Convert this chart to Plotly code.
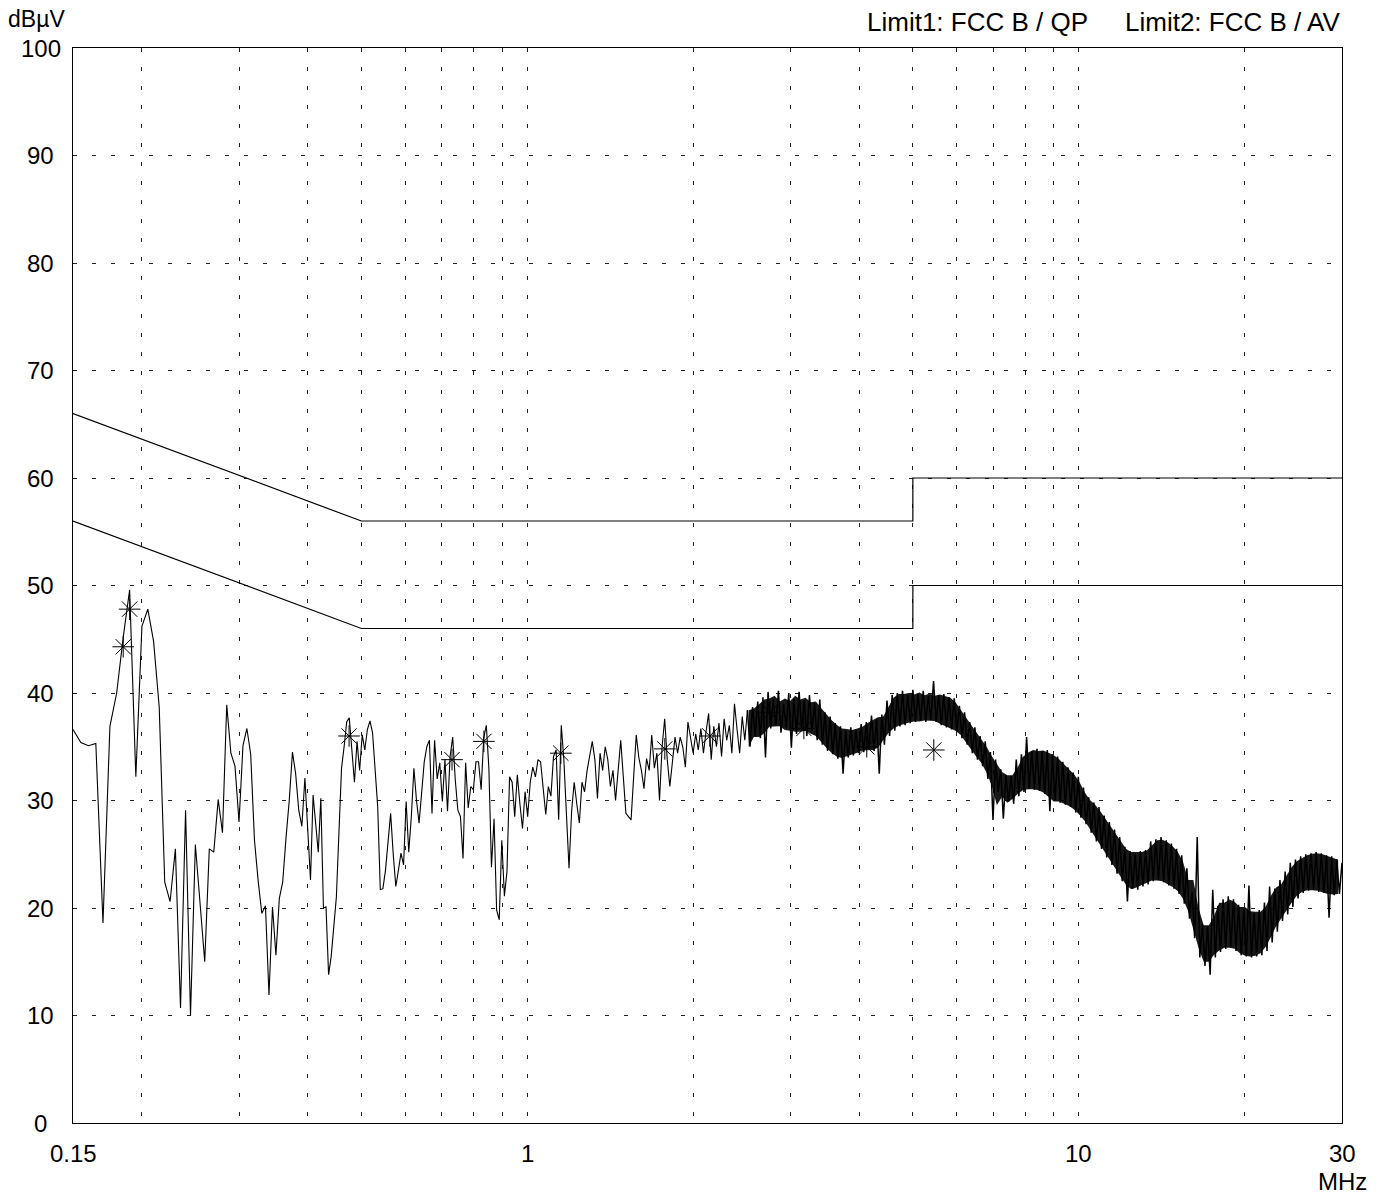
import numpy as np
import plotly.graph_objects as go

# ---- Measurement data ----------------------------------------------------
# Low band: linear receiver sweep, 150 kHz start, 5 kHz step
SWEEP_START_MHZ = 0.150
SWEEP_STEP_MHZ = 0.005
low_band_db = [
    36.6, 35.4, 35.1, 35.3, 18.6, 36.9, 40.0, 45.2, 49.6, 32.2,
    46.2, 47.8, 44.8, 38.7, 22.4, 20.6, 25.5, 10.7, 29.1, 10.0,
    25.9, 20.7, 15.0, 25.5, 25.2, 30.1, 27.0, 38.9, 34.4, 33.2,
    28.0, 35.1, 36.7, 34.3, 26.3, 22.5, 19.5, 20.2, 11.9, 20.1,
    15.6, 20.9, 22.4, 26.5, 30.0, 34.5, 32.5, 29.1, 27.6, 32.1,
]

# Upper band: peak-hold display points on a log grid 0.4 .. 30 MHz
# (from ~2 MHz on, points alternate between the top and bottom of the noise band)
HF_START_MHZ = 0.40
HF_STOP_MHZ = 30.0
BAND_FROM_INDEX = 170
high_band_db = [
    26.6, 22.6, 30.5, 28.0, 25.2, 30.2, 20.0, 20.1, 13.8, 15.5,
    18.0, 21.0, 27.0, 33.0, 35.0, 37.3, 37.7, 35.0, 31.7, 35.5,
    32.8, 36.1, 34.7, 36.6, 37.4, 36.3, 33.0, 29.4, 21.7, 21.8,
    23.5, 26.0, 28.8, 25.0, 22.0, 23.5, 25.1, 24.0, 29.9, 25.2,
    28.5, 33.0, 30.0, 27.9, 30.7, 33.6, 35.0, 35.6, 28.8, 35.6,
    32.0, 33.5, 29.9, 33.8, 29.0, 34.1, 35.9, 31.9, 29.1, 28.5,
    24.6, 33.5, 29.3, 31.3, 31.0, 33.6, 33.6, 31.0, 35.8, 37.0,
    33.0, 23.8, 28.3, 19.8, 18.9, 26.3, 21.1, 23.4, 32.2, 31.7,
    28.5, 32.4, 29.7, 27.4, 30.8, 28.5, 31.7, 33.1, 32.2, 33.8,
    33.6, 31.3, 28.7, 31.3, 30.4, 34.1, 34.7, 28.2, 37.0, 33.8,
    28.5, 23.7, 29.0, 31.7, 29.7, 27.9, 31.7, 30.8, 32.8, 34.1,
    35.5, 33.8, 30.2, 34.4, 32.8, 35.0, 33.8, 31.3, 32.8, 30.0,
    33.0, 35.6, 32.2, 28.8, 28.5, 28.2, 32.2, 36.1, 34.0, 32.8,
    31.1, 33.9, 32.8, 36.1, 33.0, 34.4, 30.0, 35.0, 37.6, 33.8,
    31.3, 33.8, 35.9, 34.4, 35.9, 35.0, 33.1, 37.3, 35.6, 34.4,
    36.2, 34.7, 36.7, 34.4, 36.4, 38.1, 33.8, 36.9, 35.0, 37.2,
    34.1, 37.6, 35.6, 37.0, 34.4, 39.0, 36.6, 34.4, 37.8, 35.6,
    38.4, 35.0, 38.7, 36.0, 39.2, 35.8, 39.6, 34.0, 40.1, 36.7,
    39.4, 37.0, 40.2, 36.3, 39.0, 36.8, 40.0, 34.9, 39.5, 36.2,
    40.1, 36.6, 39.3, 36.0, 39.8, 36.4, 39.0, 35.6, 39.4, 35.2,
    38.2, 34.6, 37.8, 34.3, 37.2, 33.9, 36.9, 32.5, 36.5, 34.0,
    36.8, 34.2, 36.6, 34.4, 37.1, 34.5, 37.3, 34.8, 37.9, 34.6,
    37.6, 32.5, 38.0, 35.2, 39.3, 36.0, 39.8, 36.5, 40.0, 36.9,
    40.2, 37.0, 39.8, 37.2, 40.3, 37.3, 39.9, 37.4, 40.2, 37.3,
    39.7, 37.5, 41.1, 37.3, 39.8, 37.0, 39.9, 36.8, 39.6, 36.6,
    39.5, 36.4, 38.8, 35.8, 38.2, 35.2, 37.3, 34.4, 36.8, 33.8,
    36.0, 33.2, 35.5, 32.0, 34.5, 28.2, 33.8, 30.8, 32.9, 28.3,
    32.4, 29.9, 32.3, 29.7, 33.8, 30.4, 34.3, 30.8, 35.9, 31.1,
    34.6, 31.0, 34.8, 30.9, 34.6, 30.6, 34.7, 29.0, 34.3, 30.0,
    34.1, 29.8, 33.6, 29.6, 33.1, 29.4, 32.6, 28.9, 32.2, 28.4,
    31.2, 27.8, 30.3, 27.0, 29.8, 26.2, 29.4, 25.5, 28.6, 24.7,
    28.0, 24.0, 27.3, 23.2, 26.6, 22.5, 25.7, 20.6, 25.3, 21.8,
    25.1, 21.7, 25.3, 22.0, 25.4, 22.2, 26.2, 22.5, 26.4, 22.6,
    26.6, 22.4, 26.3, 22.1, 26.0, 21.8, 25.5, 21.3, 24.9, 20.4,
    23.7, 19.0, 21.5, 17.2, 26.6, 15.4, 18.5, 14.6, 18.3, 13.8,
    21.7, 15.4, 20.2, 15.9, 20.8, 16.2, 21.1, 16.4, 20.8, 16.0,
    20.3, 15.6, 19.9, 15.5, 22.1, 15.4, 19.5, 15.5, 19.8, 15.6,
    20.5, 16.0, 22.0, 16.8, 21.8, 17.8, 22.6, 18.8, 23.4, 19.4,
    24.2, 20.1, 24.5, 20.9, 24.8, 21.4, 25.0, 21.6, 25.1, 21.7,
    25.2, 21.5, 25.1, 21.4, 24.9, 19.1, 24.8, 21.2, 24.5, 21.3,
    24.2,
]

# Final-measurement markers
marker_mhz = [0.185, 0.190, 0.475, 0.730, 0.834, 1.150, 1.775, 2.142,
              2.753, 3.172, 4.125, 5.457]
marker_db = [44.3, 47.8, 36.0, 33.8, 35.5, 34.4, 34.8, 36.0,
             38.2, 36.7, 35.0, 34.7]

# FCC class B conducted limits
limit_mhz = [0.15, 0.5, 5.0, 5.0, 30.0]
limit_qp_db = [66, 56, 56, 60, 60]
limit_av_db = [56, 46, 46, 50, 50]

# Axis decorations
x_grid_mhz = [0.2, 0.3, 0.4, 0.5, 0.6, 0.7, 0.8, 0.9, 1, 2, 3, 4, 5, 6, 7, 8, 9, 10, 20]
x_tick_mhz = [0.15, 1, 10, 30]
x_tick_text = ["0.15", "1", "10", "30"]
y_ticks = [0, 10, 20, 30, 40, 50, 60, 70, 80, 90, 100]
header_left = "dBµV"
header_unit = "MHz"
header_limit1 = "Limit1: FCC B / QP"
header_limit2 = "Limit2: FCC B / AV"

# ---- Build the trace -----------------------------------------------------
low_mhz = SWEEP_START_MHZ + SWEEP_STEP_MHZ * np.arange(len(low_band_db))
high_mhz = np.geomspace(HF_START_MHZ, HF_STOP_MHZ, len(high_band_db))
high_db = np.asarray(high_band_db, dtype=float)

# Sparse part (single visible line) and dense part (noise band)
sparse_mhz = np.concatenate([low_mhz, high_mhz[:BAND_FROM_INDEX + 1]])
sparse_db = np.concatenate([low_band_db, high_db[:BAND_FROM_INDEX + 1]])
dense_mhz = high_mhz[BAND_FROM_INDEX:]
dense_db = high_db[BAND_FROM_INDEX:]

# Body of the noise band: between band tops (even points) and bottoms (odd
# points), pulled in a little so the strokes stay ragged at the edges.
band_idx = np.arange(BAND_FROM_INDEX, len(high_db))
top_idx = band_idx[band_idx % 2 == 0]
bot_idx = band_idx[band_idx % 2 == 1]
n_core = min(len(top_idx), len(bot_idx))
top_idx, bot_idx = top_idx[:n_core], bot_idx[:n_core]
top_db = high_db[top_idx]
bot_db = high_db[bot_idx]
top_min = top_db.copy()
top_min[1:-1] = np.minimum.reduce([top_db[:-2], top_db[1:-1], top_db[2:]])
bot_max = bot_db.copy()
bot_max[1:-1] = np.maximum.reduce([bot_db[:-2], bot_db[1:-1], bot_db[2:]])
top_med = top_db.copy()
top_med[1:-1] = np.median(np.vstack([top_db[:-2], top_db[1:-1], top_db[2:]]), axis=0)
bot_med = bot_db.copy()
bot_med[1:-1] = np.median(np.vstack([bot_db[:-2], bot_db[1:-1], bot_db[2:]]), axis=0)
core_top = 0.5 * (top_min + top_med)
core_bot = 0.5 * (bot_max + bot_med)
core_x = np.sqrt(high_mhz[top_idx] * high_mhz[bot_idx])
band_x = np.concatenate([core_x, core_x[::-1]])
band_y = np.concatenate([core_top, core_bot[::-1]])

FONT = "Liberation Sans, Arial, sans-serif"
W, H = 1386, 1194
L, R, T, B = 73, 44, 48, 71
plot_w, plot_h = W - L - R, H - T - B

fig = go.Figure()

fig.add_trace(go.Scatter(
    x=band_x, y=band_y, mode="lines", fill="toself",
    fillcolor="rgba(0,0,0,0.9)", line=dict(width=0),
    hoverinfo="skip", showlegend=False))

fig.add_trace(go.Scatter(
    x=sparse_mhz, y=sparse_db, mode="lines",
    line=dict(color="black", width=1.1), hoverinfo="skip", showlegend=False))
fig.add_trace(go.Scatter(
    x=dense_mhz, y=dense_db, mode="lines",
    line=dict(color="black", width=1.5), hoverinfo="skip", showlegend=False))

for lim in (limit_qp_db, limit_av_db):
    fig.add_trace(go.Scatter(
        x=limit_mhz, y=lim, mode="lines",
        line=dict(color="black", width=1.2), hoverinfo="skip", showlegend=False))

fig.add_trace(go.Scatter(
    x=marker_mhz, y=marker_db, mode="markers",
    marker=dict(symbol="asterisk-open", size=18, color="black",
                line=dict(color="black", width=1)),
    hoverinfo="skip", showlegend=False))

grid_style = dict(showgrid=True, gridcolor="#222", gridwidth=1, griddash="4px,15px")

fig.update_xaxes(
    type="log", range=[np.log10(0.15), np.log10(30)],
    tickvals=x_grid_mhz, showticklabels=False, ticks="",
    showline=True, linecolor="black", linewidth=1, mirror=True,
    zeroline=False, **grid_style)
fig.update_yaxes(
    range=[0, 100], tickvals=y_ticks[1:-1], showticklabels=False, ticks="",
    showline=True, linecolor="black", linewidth=1, mirror=True,
    zeroline=False, **grid_style)

font = dict(family=FONT, size=24, color="black")
head_font = dict(family=FONT, size=26, color="black")
ann = []


def px_x(px):
    return (px - L) / plot_w


def px_y(py):
    return (H - B - py) / plot_h


for v in y_ticks:
    ann.append(dict(text=str(v), xref="paper", yref="y", x=px_x(40.5), y=v,
                    xanchor="center", yanchor="middle", showarrow=False, font=font))
for f, t in zip(x_tick_mhz, x_tick_text):
    ann.append(dict(text=t, xref="x", yref="paper", x=np.log10(f), y=px_y(1153),
                    xanchor="center", yanchor="middle", showarrow=False, font=font))
ann.append(dict(text=header_unit, xref="x", yref="paper", x=np.log10(30), y=px_y(1181),
                xanchor="center", yanchor="middle", showarrow=False, font=font))
ann.append(dict(text=header_left, xref="paper", yref="paper", x=px_x(6), y=px_y(19),
                xanchor="left", yanchor="middle", showarrow=False,
                font=dict(family=FONT, size=23, color="black")))
ann.append(dict(text=header_limit1, xref="paper", yref="paper", x=px_x(865), y=px_y(22),
                xanchor="left", yanchor="middle", showarrow=False, font=head_font))
ann.append(dict(text=header_limit2, xref="paper", yref="paper", x=px_x(1342), y=px_y(22),
                xanchor="right", yanchor="middle", showarrow=False, font=head_font))

fig.update_layout(
    width=W, height=H,
    margin=dict(l=L, r=R, t=T, b=B),
    paper_bgcolor="white", plot_bgcolor="white",
    annotations=ann, showlegend=False,
    font=dict(family=FONT),
)

fig.write_html("out.html", config={"displayModeBar": False})
